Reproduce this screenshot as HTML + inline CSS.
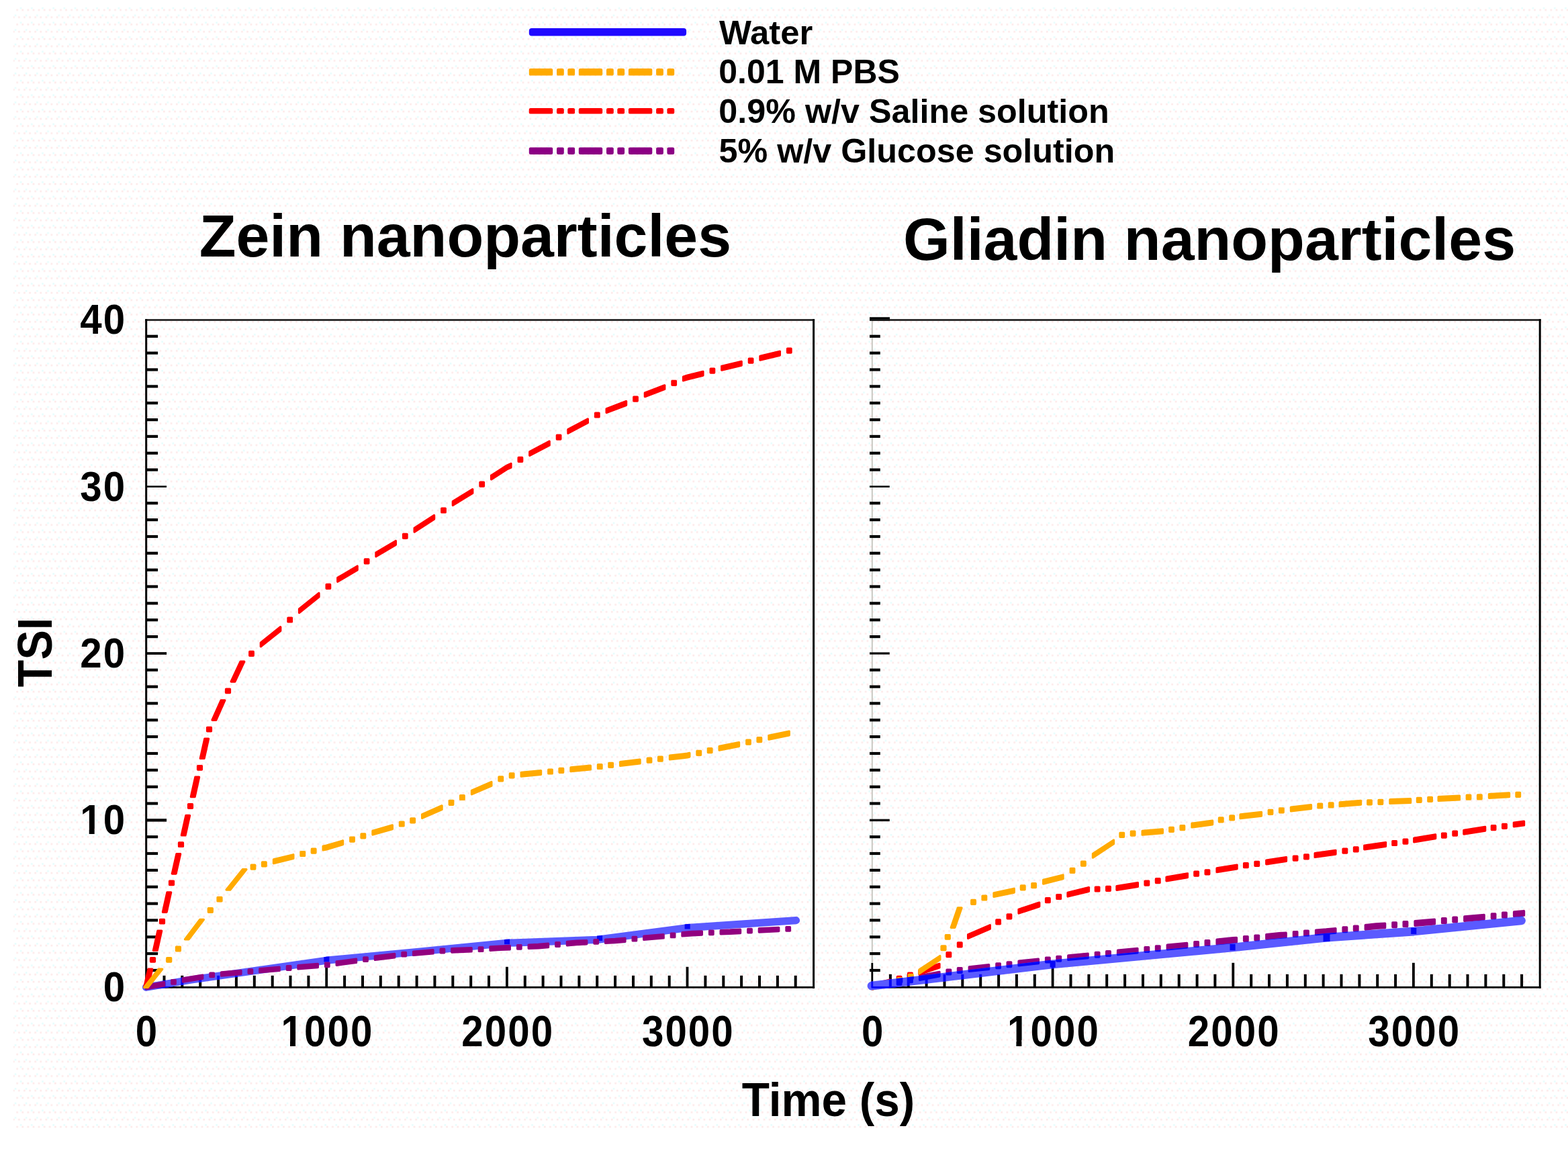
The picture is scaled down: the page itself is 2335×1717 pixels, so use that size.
<!DOCTYPE html>
<html lang="en"><head><meta charset="utf-8"><title>TSI stability kinetics</title>
<style>
html,body{margin:0;padding:0;background:#ffffff;}
body{width:2335px;height:1717px;overflow:hidden;}
svg{display:block;}
text{font-family:"Liberation Sans","DejaVu Sans",sans-serif;font-weight:700;fill:#000;}
.leg{font-size:50px;}
.ttl{font-size:89.7px;}
.tk{font-size:62px;}
.ax{font-size:67.5px;}
</style></head><body>
<svg width="2335" height="1717" viewBox="0 0 2335 1717">
<defs><pattern id="dz" width="16.2" height="21.6" patternUnits="userSpaceOnUse"><rect x="2.7" y="2.7" width="2.7" height="2.7" fill="#fdeaea"/><rect x="10.8" y="2.7" width="2.7" height="2.7" fill="#fdeaea"/><rect x="5.4" y="0" width="2.7" height="2.7" fill="#e8fdfd"/><rect x="0" y="13.5" width="2.7" height="2.7" fill="#fdeaea"/><rect x="8.1" y="13.5" width="2.7" height="2.7" fill="#fdeaea"/><rect x="13.5" y="10.8" width="2.7" height="2.7" fill="#e8fdfd"/></pattern></defs>
<rect x="0" y="0" width="2335" height="1717" fill="#ffffff"/>
<rect x="20" y="8" width="2315" height="1674" fill="url(#dz)"/>
<g id="legend">
<rect x="787.8" y="42" width="234.3" height="11.6" rx="4" fill="#2008ff"/>
<rect x="787.8" y="101.9" width="35.4" height="10.7" rx="2.2" fill="#ffaa00"/>
<rect x="829" y="101.9" width="10.8" height="10.7" rx="2.2" fill="#ffaa00"/>
<rect x="845.3" y="101.9" width="10.8" height="10.7" rx="2.2" fill="#ffaa00"/>
<rect x="861.8" y="101.9" width="35.4" height="10.7" rx="2.2" fill="#ffaa00"/>
<rect x="903" y="101.9" width="10.8" height="10.7" rx="2.2" fill="#ffaa00"/>
<rect x="919.3" y="101.9" width="10.8" height="10.7" rx="2.2" fill="#ffaa00"/>
<rect x="935.9" y="101.9" width="35.4" height="10.7" rx="2.2" fill="#ffaa00"/>
<rect x="977.1" y="101.9" width="10.8" height="10.7" rx="2.2" fill="#ffaa00"/>
<rect x="993.4" y="101.9" width="10.8" height="10.7" rx="2.2" fill="#ffaa00"/>
<rect x="787.8" y="161" width="35.4" height="8.6" rx="2.2" fill="#ff0000"/>
<rect x="829" y="161" width="10.8" height="8.6" rx="2.2" fill="#ff0000"/>
<rect x="845.3" y="161" width="10.8" height="8.6" rx="2.2" fill="#ff0000"/>
<rect x="861.8" y="161" width="35.4" height="8.6" rx="2.2" fill="#ff0000"/>
<rect x="903" y="161" width="10.8" height="8.6" rx="2.2" fill="#ff0000"/>
<rect x="919.3" y="161" width="10.8" height="8.6" rx="2.2" fill="#ff0000"/>
<rect x="935.9" y="161" width="35.4" height="8.6" rx="2.2" fill="#ff0000"/>
<rect x="977.1" y="161" width="10.8" height="8.6" rx="2.2" fill="#ff0000"/>
<rect x="993.4" y="161" width="10.8" height="8.6" rx="2.2" fill="#ff0000"/>
<rect x="787.8" y="219.4" width="35.4" height="10.6" rx="2.2" fill="#8c0084"/>
<rect x="829" y="219.4" width="10.8" height="10.6" rx="2.2" fill="#8c0084"/>
<rect x="845.3" y="219.4" width="10.8" height="10.6" rx="2.2" fill="#8c0084"/>
<rect x="861.8" y="219.4" width="35.4" height="10.6" rx="2.2" fill="#8c0084"/>
<rect x="903" y="219.4" width="10.8" height="10.6" rx="2.2" fill="#8c0084"/>
<rect x="919.3" y="219.4" width="10.8" height="10.6" rx="2.2" fill="#8c0084"/>
<rect x="935.9" y="219.4" width="35.4" height="10.6" rx="2.2" fill="#8c0084"/>
<rect x="977.1" y="219.4" width="10.8" height="10.6" rx="2.2" fill="#8c0084"/>
<rect x="993.4" y="219.4" width="10.8" height="10.6" rx="2.2" fill="#8c0084"/>
<text class="leg" x="1071" y="66" style="font-size:50.8px">Water</text>
<text class="leg" x="1070.3" y="123.8">0.01 M PBS</text>
<text class="leg" x="1070.3" y="182.8" style="font-size:50.3px">0.9% w/v Saline solution</text>
<text class="leg" x="1070.5" y="242.2" style="font-size:50.3px">5% w/v Glucose solution</text>
</g>
<text class="ttl" x="692.9" y="381.5" text-anchor="middle">Zein nanoparticles</text>
<text class="ttl" x="1801" y="387" text-anchor="middle">Gliadin nanoparticles</text>
<g id="zein">
<g>
<rect x="218.6" y="1442.9" width="16.5" height="4.2" fill="#000"/>
<rect x="218.6" y="1418" width="16.5" height="4.2" fill="#000"/>
<rect x="218.6" y="1393.2" width="16.5" height="4.2" fill="#000"/>
<rect x="218.6" y="1368.3" width="16.5" height="4.2" fill="#000"/>
<rect x="218.6" y="1343.5" width="16.5" height="4.2" fill="#000"/>
<rect x="218.6" y="1318.6" width="16.5" height="4.2" fill="#000"/>
<rect x="218.6" y="1293.8" width="16.5" height="4.2" fill="#000"/>
<rect x="218.6" y="1268.9" width="16.5" height="4.2" fill="#000"/>
<rect x="218.6" y="1244.1" width="16.5" height="4.2" fill="#000"/>
<rect x="218.6" y="1219.2" width="29.5" height="4.4" fill="#0a0a0a"/>
<rect x="218.6" y="1194.4" width="16.5" height="4.2" fill="#000"/>
<rect x="218.6" y="1169.6" width="16.5" height="4.2" fill="#000"/>
<rect x="218.6" y="1144.7" width="16.5" height="4.2" fill="#000"/>
<rect x="218.6" y="1119.9" width="16.5" height="4.2" fill="#000"/>
<rect x="218.6" y="1095" width="16.5" height="4.2" fill="#000"/>
<rect x="218.6" y="1070.2" width="16.5" height="4.2" fill="#000"/>
<rect x="218.6" y="1045.3" width="16.5" height="4.2" fill="#000"/>
<rect x="218.6" y="1020.5" width="16.5" height="4.2" fill="#000"/>
<rect x="218.6" y="995.6" width="16.5" height="4.2" fill="#000"/>
<rect x="218.6" y="971.1" width="29.5" height="3.8" fill="#0a0a0a"/>
<rect x="218.6" y="946" width="16.5" height="4.2" fill="#000"/>
<rect x="218.6" y="921.1" width="16.5" height="4.2" fill="#000"/>
<rect x="218.6" y="896.3" width="16.5" height="4.2" fill="#000"/>
<rect x="218.6" y="871.4" width="16.5" height="4.2" fill="#000"/>
<rect x="218.6" y="846.6" width="16.5" height="4.2" fill="#000"/>
<rect x="218.6" y="821.7" width="16.5" height="4.2" fill="#000"/>
<rect x="218.6" y="796.9" width="16.5" height="4.2" fill="#000"/>
<rect x="218.6" y="772" width="16.5" height="4.2" fill="#000"/>
<rect x="218.6" y="747.2" width="16.5" height="4.2" fill="#000"/>
<rect x="218.6" y="723.3" width="29.5" height="2.6" fill="#0a0a0a"/>
<rect x="218.6" y="697.5" width="16.5" height="4.2" fill="#000"/>
<rect x="218.6" y="672.7" width="16.5" height="4.2" fill="#000"/>
<rect x="218.6" y="647.8" width="16.5" height="4.2" fill="#000"/>
<rect x="218.6" y="623" width="16.5" height="4.2" fill="#000"/>
<rect x="218.6" y="598.1" width="16.5" height="4.2" fill="#000"/>
<rect x="218.6" y="573.3" width="16.5" height="4.2" fill="#000"/>
<rect x="218.6" y="548.4" width="16.5" height="4.2" fill="#000"/>
<rect x="218.6" y="523.6" width="16.5" height="4.2" fill="#000"/>
<rect x="218.6" y="498.7" width="16.5" height="4.2" fill="#000"/>
<rect x="242.5" y="1452.8" width="4" height="17.5" fill="#000"/>
<rect x="269.3" y="1452.8" width="4" height="17.5" fill="#000"/>
<rect x="296.2" y="1452.8" width="4" height="17.5" fill="#000"/>
<rect x="323.1" y="1452.8" width="4" height="17.5" fill="#000"/>
<rect x="349.9" y="1452.8" width="4" height="17.5" fill="#000"/>
<rect x="376.8" y="1452.8" width="4" height="17.5" fill="#000"/>
<rect x="403.7" y="1452.8" width="4" height="17.5" fill="#000"/>
<rect x="430.5" y="1452.8" width="4" height="17.5" fill="#000"/>
<rect x="457.4" y="1452.8" width="4" height="17.5" fill="#000"/>
<rect x="484.3" y="1439.8" width="3.8" height="30.5" fill="#000"/>
<rect x="511.1" y="1452.8" width="4" height="17.5" fill="#000"/>
<rect x="538" y="1452.8" width="4" height="17.5" fill="#000"/>
<rect x="564.8" y="1452.8" width="4" height="17.5" fill="#000"/>
<rect x="591.7" y="1452.8" width="4" height="17.5" fill="#000"/>
<rect x="618.6" y="1452.8" width="4" height="17.5" fill="#000"/>
<rect x="645.4" y="1452.8" width="4" height="17.5" fill="#000"/>
<rect x="672.3" y="1452.8" width="4" height="17.5" fill="#000"/>
<rect x="699.2" y="1452.8" width="4" height="17.5" fill="#000"/>
<rect x="726" y="1452.8" width="4" height="17.5" fill="#000"/>
<rect x="753" y="1439.8" width="3.8" height="30.5" fill="#000"/>
<rect x="779.8" y="1452.8" width="4" height="17.5" fill="#000"/>
<rect x="806.6" y="1452.8" width="4" height="17.5" fill="#000"/>
<rect x="833.5" y="1452.8" width="4" height="17.5" fill="#000"/>
<rect x="860.4" y="1452.8" width="4" height="17.5" fill="#000"/>
<rect x="887.2" y="1452.8" width="4" height="17.5" fill="#000"/>
<rect x="914.1" y="1452.8" width="4" height="17.5" fill="#000"/>
<rect x="941" y="1452.8" width="4" height="17.5" fill="#000"/>
<rect x="967.8" y="1452.8" width="4" height="17.5" fill="#000"/>
<rect x="994.7" y="1452.8" width="4" height="17.5" fill="#000"/>
<rect x="1021.6" y="1439.8" width="3.8" height="30.5" fill="#000"/>
<rect x="1048.4" y="1452.8" width="4" height="17.5" fill="#000"/>
<rect x="1075.3" y="1452.8" width="4" height="17.5" fill="#000"/>
<rect x="1102.1" y="1452.8" width="4" height="17.5" fill="#000"/>
<rect x="1129" y="1452.8" width="4" height="17.5" fill="#000"/>
<rect x="1155.9" y="1452.8" width="4" height="17.5" fill="#000"/>
<rect x="1182.7" y="1452.8" width="4" height="17.5" fill="#000"/>
<rect x="216.2" y="475.2" width="996.9" height="2.6" fill="#1a1a1a"/>
<rect x="1210.1" y="475.2" width="3" height="996.6" fill="#000"/>
<rect x="216.2" y="1468.9" width="996.9" height="2.8" fill="#000"/>
<rect x="216.2" y="475.2" width="3" height="996.6" fill="#000"/>
<text class="tk" transform="translate(201.7 1557.6) scale(0.94 1.055)" style="letter-spacing:2.2px">0</text>
<clipPath id="c1_1" clipPathUnits="userSpaceOnUse"><rect x="218.6" y="1437.6" width="700" height="111.5"/><rect x="218.6" y="1548.5" width="200.5" height="39.1"/><rect x="432" y="1548.5" width="8" height="39.1"/><rect x="452" y="1548.5" width="500" height="39.1"/></clipPath>
<g clip-path="url(#c1_1)"><text class="tk" transform="translate(418.6 1557.6) scale(0.94 1.055)" style="letter-spacing:2.2px">1000</text></g>
<text class="tk" transform="translate(687.3 1557.6) scale(0.94 1.055)" style="letter-spacing:2.2px">2000</text>
<text class="tk" transform="translate(955.9 1557.6) scale(0.94 1.055)" style="letter-spacing:2.2px">3000</text>
<text class="tk" transform="translate(153.8 1490.8) scale(0.94 1.005)" style="letter-spacing:2.2px">0</text>
<clipPath id="c1_2" clipPathUnits="userSpaceOnUse"><rect x="-80.7" y="1122.3" width="700" height="112"/><rect x="-80.7" y="1233.7" width="200.5" height="38.6"/><rect x="132.7" y="1233.7" width="8" height="38.6"/><rect x="152.7" y="1233.7" width="500" height="38.6"/></clipPath>
<g clip-path="url(#c1_2)"><text class="tk" transform="translate(119.3 1242.3) scale(0.94 1.005)" style="letter-spacing:2.2px">10</text></g>
<text class="tk" transform="translate(119.3 993.9) scale(0.94 1.005)" style="letter-spacing:2.2px">20</text>
<text class="tk" transform="translate(119.3 745.5) scale(0.94 1.005)" style="letter-spacing:2.2px">30</text>
<text class="tk" transform="translate(119.3 497) scale(0.94 1.005)" style="letter-spacing:2.2px">40</text>
</g>
<mask id="mz" maskUnits="userSpaceOnUse" x="0" y="0" width="2335" height="1717"><path d="M217.5 1470.3 L283.5 1459.2 L486.3 1430.2 L620.6 1417.5 L755 1404.3 L889.2 1399.4 L1023.6 1381.6 L1185.5 1370.6" fill="none" stroke="#fff" stroke-width="11.2" stroke-linecap="round" stroke-linejoin="round"/></mask>
<path d="M217.5 1470.3 L283.5 1459.2 L486.3 1430.2 L620.6 1417.5 L755 1404.3 L889.2 1399.4 L1023.6 1381.6 L1185.5 1370.6" fill="none" stroke="#5a5aff" stroke-width="11.2" stroke-linecap="round" stroke-linejoin="round"/>
<g mask="url(#mz)">
<rect x="218.6" y="1442.9" width="16.5" height="4.2" fill="#0808f6"/>
<rect x="218.6" y="1418" width="16.5" height="4.2" fill="#0808f6"/>
<rect x="218.6" y="1393.2" width="16.5" height="4.2" fill="#0808f6"/>
<rect x="218.6" y="1368.3" width="16.5" height="4.2" fill="#0808f6"/>
<rect x="218.6" y="1343.5" width="16.5" height="4.2" fill="#0808f6"/>
<rect x="242.5" y="1452.8" width="4" height="17.5" fill="#0808f6"/>
<rect x="269.3" y="1452.8" width="4" height="17.5" fill="#0808f6"/>
<rect x="296.2" y="1452.8" width="4" height="17.5" fill="#0808f6"/>
<rect x="323.1" y="1452.8" width="4" height="17.5" fill="#0808f6"/>
<rect x="349.9" y="1452.8" width="4" height="17.5" fill="#0808f6"/>
<rect x="376.8" y="1452.8" width="4" height="17.5" fill="#0808f6"/>
<rect x="403.7" y="1452.8" width="4" height="17.5" fill="#0808f6"/>
<rect x="430.5" y="1452.8" width="4" height="17.5" fill="#0808f6"/>
<rect x="457.4" y="1452.8" width="4" height="17.5" fill="#0808f6"/>
<rect x="484.3" y="1439.8" width="3.8" height="30.5" fill="#0808f6"/>
<rect x="511.1" y="1452.8" width="4" height="17.5" fill="#0808f6"/>
<rect x="538" y="1452.8" width="4" height="17.5" fill="#0808f6"/>
<rect x="564.8" y="1452.8" width="4" height="17.5" fill="#0808f6"/>
<rect x="591.7" y="1452.8" width="4" height="17.5" fill="#0808f6"/>
<rect x="618.6" y="1452.8" width="4" height="17.5" fill="#0808f6"/>
<rect x="645.4" y="1452.8" width="4" height="17.5" fill="#0808f6"/>
<rect x="672.3" y="1452.8" width="4" height="17.5" fill="#0808f6"/>
<rect x="699.2" y="1452.8" width="4" height="17.5" fill="#0808f6"/>
<rect x="726" y="1452.8" width="4" height="17.5" fill="#0808f6"/>
<rect x="753" y="1439.8" width="3.8" height="30.5" fill="#0808f6"/>
<rect x="779.8" y="1452.8" width="4" height="17.5" fill="#0808f6"/>
<rect x="806.6" y="1452.8" width="4" height="17.5" fill="#0808f6"/>
<rect x="833.5" y="1452.8" width="4" height="17.5" fill="#0808f6"/>
<rect x="860.4" y="1452.8" width="4" height="17.5" fill="#0808f6"/>
<rect x="887.2" y="1452.8" width="4" height="17.5" fill="#0808f6"/>
<rect x="914.1" y="1452.8" width="4" height="17.5" fill="#0808f6"/>
<rect x="941" y="1452.8" width="4" height="17.5" fill="#0808f6"/>
<rect x="967.8" y="1452.8" width="4" height="17.5" fill="#0808f6"/>
<rect x="994.7" y="1452.8" width="4" height="17.5" fill="#0808f6"/>
<rect x="1021.6" y="1439.8" width="3.8" height="30.5" fill="#0808f6"/>
<rect x="1048.4" y="1452.8" width="4" height="17.5" fill="#0808f6"/>
<rect x="1075.3" y="1452.8" width="4" height="17.5" fill="#0808f6"/>
<rect x="1102.1" y="1452.8" width="4" height="17.5" fill="#0808f6"/>
<rect x="1129" y="1452.8" width="4" height="17.5" fill="#0808f6"/>
<rect x="1155.9" y="1452.8" width="4" height="17.5" fill="#0808f6"/>
<rect x="1182.7" y="1452.8" width="4" height="17.5" fill="#0808f6"/>
<rect x="1210.1" y="475.2" width="3" height="996.6" fill="#0808f6"/>
<rect x="216.2" y="1468.9" width="996.9" height="2.8" fill="#0808f6"/>
<rect x="216.2" y="475.2" width="3" height="996.6" fill="#0808f6"/>
<rect x="482.3" y="1424.4" width="8.1" height="8.1" fill="#0808f6"/>
<rect x="751" y="1398.1" width="8.1" height="8.1" fill="#0808f6"/>
<rect x="889" y="1392.9" width="8.1" height="8.1" fill="#0808f6"/>
<rect x="1019.6" y="1375.4" width="8.1" height="8.1" fill="#0808f6"/>
</g>
<path d="M217.5 1467.7 L244.5 1462.7 L244.5 1467.9 L217.5 1472.9ZM255.8 1459.6 L261.2 1459.6 L261.2 1465 L255.8 1465ZM272.4 1456.9 L301.7 1452.1 L301.7 1457.3 L272.4 1462.1ZM313 1449.2 L318.4 1449.2 L318.4 1454.6 L313 1454.6ZM329.6 1447.9 L358.9 1445.4 L358.9 1450.6 L329.6 1453.1ZM370.2 1443.9 L375.6 1443.9 L375.6 1449.3 L370.2 1449.3ZM386.8 1442.6 L416.1 1440.2 L416.1 1445.4 L386.8 1447.8ZM427.4 1438.8 L432.8 1438.8 L432.8 1444.2 L427.4 1444.2ZM444 1437.6 L473.3 1435.4 L473.3 1440.6 L444 1442.8ZM484.6 1434.1 L490 1434.1 L490 1439.5 L484.6 1439.5ZM501.2 1432 L530.5 1428.2 L530.5 1433.4 L501.2 1437.2ZM541.8 1425.9 L547.2 1425.9 L547.2 1431.3 L541.8 1431.3ZM558.4 1424 L587.7 1420.5 L587.7 1425.7 L558.4 1429.2ZM599 1418.4 L604.4 1418.4 L604.4 1423.8 L599 1423.8ZM615.6 1417.1 L644.9 1414.7 L644.9 1419.9 L615.6 1422.3ZM656.2 1413.3 L661.6 1413.3 L661.6 1418.7 L656.2 1418.7ZM672.8 1412.8 L702.1 1411.7 L702.1 1416.9 L672.8 1418ZM713.4 1411 L718.8 1411 L718.8 1416.4 L713.4 1416.4ZM730 1410 L744.2 1409.1 L744.2 1414.3 L730 1415.2ZM744.2 1409.1 L759.3 1408.5 L759.3 1413.7 L744.2 1414.3ZM770.6 1407.7 L776 1407.7 L776 1413.1 L770.6 1413.1ZM787.2 1407.1 L801.8 1406.5 L801.8 1411.7 L787.2 1412.3ZM801.8 1406.5 L816.5 1405.3 L816.5 1410.5 L801.8 1411.7ZM827.8 1403.8 L833.2 1403.8 L833.2 1409.2 L827.8 1409.2ZM844.4 1402.5 L858.8 1401.3 L858.8 1406.5 L844.4 1407.7ZM858.8 1401.3 L873.7 1400.6 L873.7 1405.8 L858.8 1406.5ZM885 1399.7 L890.4 1399.7 L890.4 1405.1 L885 1405.1ZM901.6 1399.1 L916 1398.4 L916 1403.6 L901.6 1404.3ZM916 1398.4 L930.9 1397.1 L930.9 1402.3 L916 1403.6ZM942.2 1395.5 L947.6 1395.5 L947.6 1400.9 L942.2 1400.9ZM958.8 1394.2 L988.1 1391.7 L988.1 1396.9 L958.8 1399.4ZM999.4 1390.1 L1004.8 1390.1 L1004.8 1395.5 L999.4 1395.5ZM1016 1388.7 L1030.6 1387.5 L1030.6 1392.7 L1016 1393.9ZM1030.6 1387.5 L1045.3 1386.9 L1045.3 1392.1 L1030.6 1392.7ZM1056.6 1386.1 L1062 1386.1 L1062 1391.5 L1056.6 1391.5ZM1073.2 1385.6 L1087.5 1385 L1087.5 1390.2 L1073.2 1390.8ZM1087.5 1385 L1102.5 1384.3 L1102.5 1389.5 L1087.5 1390.2ZM1113.8 1383.4 L1119.2 1383.4 L1119.2 1388.8 L1113.8 1388.8ZM1130.4 1382.8 L1144.8 1382.1 L1144.8 1387.3 L1130.4 1388ZM1144.8 1382.1 L1159.7 1381.4 L1159.7 1386.6 L1144.8 1387.3ZM1171 1380.6 L1176.4 1380.6 L1176.4 1386 L1171 1386Z" fill="#92007f" stroke="#92007f" stroke-width="3.4" stroke-linejoin="round"/>
<path d="M214.7 1470.3 L221 1443.3 L226.6 1443.3 L220.3 1470.3ZM224.6 1426.6 L230.4 1426.6 L230.4 1432 L224.6 1432ZM228.5 1415.4 L235 1386.1 L240.6 1386.1 L234.1 1415.4ZM238.6 1369.4 L244.4 1369.4 L244.4 1374.8 L238.6 1374.8ZM242.5 1358.2 L249 1328.9 L254.6 1328.9 L248.1 1358.2ZM252.6 1312.2 L258.4 1312.2 L258.4 1317.6 L252.6 1317.6ZM256.4 1301 L263 1271.7 L268.6 1271.7 L262 1301ZM266.6 1255 L272.4 1255 L272.4 1260.4 L266.6 1260.4ZM270.4 1243.8 L276.9 1214.5 L282.5 1214.5 L276 1243.8ZM280.6 1197.8 L286.4 1197.8 L286.4 1203.2 L280.6 1203.2ZM284.4 1186.6 L290.9 1157.3 L296.5 1157.3 L290 1186.6ZM294.6 1140.6 L300.4 1140.6 L300.4 1146 L294.6 1146ZM298.4 1129.4 L304.9 1100.1 L310.5 1100.1 L304 1129.4ZM308.6 1083.4 L314.4 1083.4 L314.4 1088.8 L308.6 1088.8ZM316.1 1072.2 L329.2 1042.9 L334.8 1042.9 L321.7 1072.2ZM336.6 1026.2 L342.4 1026.2 L342.4 1031.6 L336.6 1031.6ZM344.2 1015 L358.1 985.3 L363.7 985.3 L349.8 1015ZM371.8 970.4 L377.2 970.4 L377.2 976.2 L371.8 976.2ZM388.4 957.1 L417.7 933.7 L417.7 939.3 L388.4 962.7ZM429 920.1 L434.4 920.1 L434.4 925.9 L429 925.9ZM445.6 906.8 L474.9 883.4 L474.9 889 L445.6 912.4ZM486.2 870.4 L491.6 870.4 L491.6 876.2 L486.2 876.2ZM502.8 860.5 L532.1 843.1 L532.1 848.7 L502.8 866.1ZM543.4 832.9 L548.8 832.9 L548.8 838.7 L543.4 838.7ZM560 823 L589.3 805.6 L589.3 811.2 L560 828.6ZM600.6 795.4 L606 795.4 L606 801.2 L600.6 801.2ZM617.2 786.4 L620.6 784.2 L620.6 789.8 L617.2 792ZM620.6 784.2 L646.5 767.5 L646.5 773.1 L620.6 789.8ZM657.8 757.1 L663.2 757.1 L663.2 762.9 L657.8 762.9ZM674.4 746.8 L703.7 728.8 L703.7 734.4 L674.4 752.4ZM715 718.3 L720.4 718.3 L720.4 724.1 L715 724.1ZM731.6 708.1 L754.9 693.2 L754.9 698.8 L731.6 713.7ZM754.9 693.2 L760.9 690.5 L760.9 696.1 L754.9 698.8ZM772.2 681.5 L777.6 681.5 L777.6 687.3 L772.2 687.3ZM788.8 672.7 L818.1 657.3 L818.1 662.9 L788.8 678.3ZM829.4 648.3 L834.8 648.3 L834.8 654.1 L829.4 654.1ZM846 639.5 L875.3 624 L875.3 629.6 L846 645.1ZM886.6 615.1 L892 615.1 L892 620.9 L886.6 620.9ZM903.2 608.8 L932.5 597.7 L932.5 603.3 L903.2 614.4ZM943.8 591.2 L949.2 591.2 L949.2 597 L943.8 597ZM960.4 585 L989.7 573.9 L989.7 579.5 L960.4 590.6ZM1001 567.4 L1006.4 567.4 L1006.4 573.2 L1001 573.2ZM1017.6 561.1 L1023.6 559.2 L1023.6 564.8 L1017.6 566.7ZM1023.6 559.2 L1046.9 553.4 L1046.9 559 L1023.6 564.8ZM1058.2 549.3 L1063.6 549.3 L1063.6 555.1 L1058.2 555.1ZM1074.8 545.4 L1104.1 538.4 L1104.1 544 L1074.8 551ZM1115.4 534.3 L1120.8 534.3 L1120.8 540.1 L1115.4 540.1ZM1132 530.4 L1161.3 523.4 L1161.3 529 L1132 536ZM1172.6 519.3 L1178 519.3 L1178 525.1 L1172.6 525.1Z" fill="#ff0000" stroke="#ff0000" stroke-width="3.4" stroke-linejoin="round"/>
<path d="M214.7 1470.3 L236.1 1443.3 L241.7 1443.3 L220.3 1470.3ZM248.8 1426.6 L254.6 1426.6 L254.6 1432 L248.8 1432ZM262.5 1410.2 L268.3 1410.2 L268.3 1415.7 L262.5 1415.7ZM275.5 1398.8 L297.7 1369.5 L303.3 1369.5 L281.1 1398.8ZM310.4 1352.8 L316.2 1352.8 L316.2 1358.3 L310.4 1358.3ZM324.1 1336.5 L329.9 1336.5 L329.9 1341.9 L324.1 1341.9ZM337.1 1325.1 L361.3 1294.7 L366.9 1294.7 L342.7 1325.1ZM374.3 1288.3 L379.7 1288.3 L379.7 1294.1 L374.3 1294.1ZM390.6 1284 L396.1 1284 L396.1 1289.8 L390.6 1289.8ZM407.5 1279.9 L436.8 1272.8 L436.8 1278.4 L407.5 1285.5ZM448 1268.6 L453.5 1268.6 L453.5 1274.4 L448 1274.4ZM464.4 1264.2 L469.9 1264.2 L469.9 1270 L464.4 1270ZM481.2 1260.2 L486.3 1259.2 L486.3 1264.8 L481.2 1265.8ZM486.3 1259.2 L510.5 1252 L510.5 1257.6 L486.3 1264.8ZM521.8 1247.2 L527.2 1247.2 L527.2 1253 L521.8 1253ZM538.1 1242 L543.6 1242 L543.6 1247.8 L538.1 1247.8ZM555 1237.3 L584.3 1229 L584.3 1234.6 L555 1242.9ZM595.5 1224.1 L601 1224.1 L601 1229.9 L595.5 1229.9ZM611.9 1219 L617.4 1219 L617.4 1224.8 L611.9 1224.8ZM628.7 1212.7 L658 1199.9 L658 1205.5 L628.7 1218.3ZM669.3 1192.4 L674.7 1192.4 L674.7 1198.2 L669.3 1198.2ZM685.6 1184.6 L691.1 1184.6 L691.1 1190.4 L685.6 1190.4ZM702.5 1177.2 L731.8 1164.5 L731.8 1170.1 L702.5 1182.8ZM743 1157 L748.5 1157 L748.5 1162.8 L743 1162.8ZM759.4 1151.9 L764.9 1151.9 L764.9 1157.7 L759.4 1157.7ZM776.2 1150.4 L805.5 1147.7 L805.5 1153.3 L776.2 1156ZM816.8 1146.1 L822.2 1146.1 L822.2 1151.9 L816.8 1151.9ZM833.1 1144.5 L838.6 1144.5 L838.6 1150.3 L833.1 1150.3ZM850 1143 L879.3 1140.3 L879.3 1145.9 L850 1148.6ZM890.5 1138.6 L896 1138.6 L896 1144.4 L890.5 1144.4ZM906.9 1136.5 L912.4 1136.5 L912.4 1142.3 L906.9 1142.3ZM923.7 1134.7 L953 1131.3 L953 1136.9 L923.7 1140.3ZM964.3 1129.3 L969.7 1129.3 L969.7 1135.1 L964.3 1135.1ZM980.6 1127.2 L986.1 1127.2 L986.1 1133 L980.6 1133ZM997.5 1125.3 L1023.6 1122.2 L1023.6 1127.8 L997.5 1130.9ZM1023.6 1122.2 L1026.8 1121.5 L1026.8 1127.1 L1023.6 1127.8ZM1038 1118.4 L1043.5 1118.4 L1043.5 1124.2 L1038 1124.2ZM1054.4 1114.8 L1059.9 1114.8 L1059.9 1120.6 L1054.4 1120.6ZM1071.2 1111.5 L1100.5 1105.7 L1100.5 1111.3 L1071.2 1117.1ZM1111.8 1102.3 L1117.2 1102.3 L1117.2 1108.1 L1111.8 1108.1ZM1128.1 1098.8 L1133.6 1098.8 L1133.6 1104.6 L1128.1 1104.6ZM1145 1095.5 L1175.2 1089.2 L1175.2 1094.8 L1145 1101.1Z" fill="#ffaa00" stroke="#ffaa00" stroke-width="3.4" stroke-linejoin="round"/>
</g>
<g id="gliadin">
<g>
<rect x="1297.8" y="476.5" width="2" height="993.8" fill="#c9c9c3"/>
<rect x="1295" y="1442.9" width="15.8" height="4.2" fill="#000"/>
<rect x="1295" y="1418" width="15.8" height="4.2" fill="#000"/>
<rect x="1295" y="1393.2" width="15.8" height="4.2" fill="#000"/>
<rect x="1295" y="1368.3" width="15.8" height="4.2" fill="#000"/>
<rect x="1295" y="1343.5" width="15.8" height="4.2" fill="#000"/>
<rect x="1295" y="1318.6" width="15.8" height="4.2" fill="#000"/>
<rect x="1295" y="1293.8" width="15.8" height="4.2" fill="#000"/>
<rect x="1295" y="1268.9" width="15.8" height="4.2" fill="#000"/>
<rect x="1295" y="1244.1" width="15.8" height="4.2" fill="#000"/>
<rect x="1295" y="1219.7" width="29.8" height="3.4" fill="#0a0a0a"/>
<rect x="1295" y="1194.4" width="15.8" height="4.2" fill="#000"/>
<rect x="1295" y="1169.6" width="15.8" height="4.2" fill="#000"/>
<rect x="1295" y="1144.7" width="15.8" height="4.2" fill="#000"/>
<rect x="1295" y="1119.9" width="15.8" height="4.2" fill="#000"/>
<rect x="1295" y="1095" width="15.8" height="4.2" fill="#000"/>
<rect x="1295" y="1070.2" width="15.8" height="4.2" fill="#000"/>
<rect x="1295" y="1045.3" width="15.8" height="4.2" fill="#000"/>
<rect x="1295" y="1020.5" width="15.8" height="4.2" fill="#000"/>
<rect x="1295" y="995.6" width="15.8" height="4.2" fill="#000"/>
<rect x="1295" y="971.4" width="29.8" height="3.2" fill="#0a0a0a"/>
<rect x="1295" y="946" width="15.8" height="4.2" fill="#000"/>
<rect x="1295" y="921.1" width="15.8" height="4.2" fill="#000"/>
<rect x="1295" y="896.3" width="15.8" height="4.2" fill="#000"/>
<rect x="1295" y="871.4" width="15.8" height="4.2" fill="#000"/>
<rect x="1295" y="846.6" width="15.8" height="4.2" fill="#000"/>
<rect x="1295" y="821.7" width="15.8" height="4.2" fill="#000"/>
<rect x="1295" y="796.9" width="15.8" height="4.2" fill="#000"/>
<rect x="1295" y="772" width="15.8" height="4.2" fill="#000"/>
<rect x="1295" y="747.2" width="15.8" height="4.2" fill="#000"/>
<rect x="1295" y="723.3" width="29.8" height="2.6" fill="#0a0a0a"/>
<rect x="1295" y="697.5" width="15.8" height="4.2" fill="#000"/>
<rect x="1295" y="672.7" width="15.8" height="4.2" fill="#000"/>
<rect x="1295" y="647.8" width="15.8" height="4.2" fill="#000"/>
<rect x="1295" y="623" width="15.8" height="4.2" fill="#000"/>
<rect x="1295" y="598.1" width="15.8" height="4.2" fill="#000"/>
<rect x="1295" y="573.3" width="15.8" height="4.2" fill="#000"/>
<rect x="1295" y="548.4" width="15.8" height="4.2" fill="#000"/>
<rect x="1295" y="523.6" width="15.8" height="4.2" fill="#000"/>
<rect x="1295" y="498.7" width="15.8" height="4.2" fill="#000"/>
<rect x="1295" y="472.3" width="30" height="5.5" fill="#000"/>
<rect x="1323.9" y="1450.8" width="4" height="19.5" fill="#000"/>
<rect x="1350.7" y="1450.8" width="4" height="19.5" fill="#000"/>
<rect x="1377.6" y="1450.8" width="4" height="19.5" fill="#000"/>
<rect x="1404.5" y="1450.8" width="4" height="19.5" fill="#000"/>
<rect x="1431.3" y="1450.8" width="4" height="19.5" fill="#000"/>
<rect x="1458.2" y="1450.8" width="4" height="19.5" fill="#000"/>
<rect x="1485.1" y="1450.8" width="4" height="19.5" fill="#000"/>
<rect x="1511.9" y="1450.8" width="4" height="19.5" fill="#000"/>
<rect x="1538.8" y="1450.8" width="4" height="19.5" fill="#000"/>
<rect x="1565.7" y="1433.8" width="3.8" height="36.5" fill="#000"/>
<rect x="1592.5" y="1450.8" width="4" height="19.5" fill="#000"/>
<rect x="1619.4" y="1450.8" width="4" height="19.5" fill="#000"/>
<rect x="1646.2" y="1450.8" width="4" height="19.5" fill="#000"/>
<rect x="1673.1" y="1450.8" width="4" height="19.5" fill="#000"/>
<rect x="1700" y="1450.8" width="4" height="19.5" fill="#000"/>
<rect x="1726.8" y="1450.8" width="4" height="19.5" fill="#000"/>
<rect x="1753.7" y="1450.8" width="4" height="19.5" fill="#000"/>
<rect x="1780.6" y="1450.8" width="4" height="19.5" fill="#000"/>
<rect x="1807.4" y="1450.8" width="4" height="19.5" fill="#000"/>
<rect x="1834.4" y="1433.8" width="3.8" height="36.5" fill="#000"/>
<rect x="1861.2" y="1450.8" width="4" height="19.5" fill="#000"/>
<rect x="1888" y="1450.8" width="4" height="19.5" fill="#000"/>
<rect x="1914.9" y="1450.8" width="4" height="19.5" fill="#000"/>
<rect x="1941.8" y="1450.8" width="4" height="19.5" fill="#000"/>
<rect x="1968.6" y="1450.8" width="4" height="19.5" fill="#000"/>
<rect x="1995.5" y="1450.8" width="4" height="19.5" fill="#000"/>
<rect x="2022.4" y="1450.8" width="4" height="19.5" fill="#000"/>
<rect x="2049.2" y="1450.8" width="4" height="19.5" fill="#000"/>
<rect x="2076.1" y="1450.8" width="4" height="19.5" fill="#000"/>
<rect x="2103" y="1433.8" width="3.8" height="36.5" fill="#000"/>
<rect x="2129.8" y="1450.8" width="4" height="19.5" fill="#000"/>
<rect x="2156.7" y="1450.8" width="4" height="19.5" fill="#000"/>
<rect x="2183.5" y="1450.8" width="4" height="19.5" fill="#000"/>
<rect x="2210.4" y="1450.8" width="4" height="19.5" fill="#000"/>
<rect x="2237.3" y="1450.8" width="4" height="19.5" fill="#000"/>
<rect x="2264.1" y="1450.8" width="4" height="19.5" fill="#000"/>
<rect x="1297.6" y="475.2" width="997.1" height="2.6" fill="#1a1a1a"/>
<rect x="2291.7" y="475.2" width="3" height="996.6" fill="#000"/>
<rect x="1297.6" y="1468.9" width="997.1" height="2.8" fill="#000"/>
<rect x="1297.4" y="1434" width="2.8" height="36.3" fill="#000"/>
<text class="tk" transform="translate(1283.1 1557.6) scale(0.94 1.055)" style="letter-spacing:2.2px">0</text>
<clipPath id="c1_3" clipPathUnits="userSpaceOnUse"><rect x="1300" y="1437.6" width="700" height="111.5"/><rect x="1300" y="1548.5" width="200.5" height="39.1"/><rect x="1513.4" y="1548.5" width="8" height="39.1"/><rect x="1533.4" y="1548.5" width="500" height="39.1"/></clipPath>
<g clip-path="url(#c1_3)"><text class="tk" transform="translate(1500 1557.6) scale(0.94 1.055)" style="letter-spacing:2.2px">1000</text></g>
<text class="tk" transform="translate(1768.7 1557.6) scale(0.94 1.055)" style="letter-spacing:2.2px">2000</text>
<text class="tk" transform="translate(2037.3 1557.6) scale(0.94 1.055)" style="letter-spacing:2.2px">3000</text>
</g>
<path d="M1336.4 1459.4 L1341.8 1459.4 L1341.8 1466 L1336.4 1466ZM1352.7 1456 L1358.2 1456 L1358.2 1462.6 L1352.7 1462.6ZM1369.6 1452.9 L1398.9 1447.4 L1398.9 1453.8 L1369.6 1459.3ZM1410.1 1444.2 L1415.6 1444.2 L1415.6 1450.8 L1410.1 1450.8ZM1426.5 1441.6 L1432 1441.6 L1432 1448.2 L1426.5 1448.2ZM1443.3 1439.9 L1472.6 1436.8 L1472.6 1443.2 L1443.3 1446.3ZM1483.9 1434.9 L1489.3 1434.9 L1489.3 1441.5 L1483.9 1441.5ZM1500.2 1433 L1505.7 1433 L1505.7 1439.6 L1500.2 1439.6ZM1517.1 1431.3 L1546.4 1428.1 L1546.4 1434.5 L1517.1 1437.7ZM1557.6 1426.2 L1563.1 1426.2 L1563.1 1432.8 L1557.6 1432.8ZM1574 1424.4 L1579.5 1424.4 L1579.5 1431 L1574 1431ZM1590.8 1422.9 L1620.1 1420.1 L1620.1 1426.5 L1590.8 1429.3ZM1631.4 1418.4 L1636.8 1418.4 L1636.8 1425 L1631.4 1425ZM1647.7 1416.7 L1653.2 1416.7 L1653.2 1423.3 L1647.7 1423.3ZM1664.6 1415.2 L1693.9 1412.4 L1693.9 1418.8 L1664.6 1421.6ZM1705.1 1410.6 L1710.6 1410.6 L1710.6 1417.2 L1705.1 1417.2ZM1721.5 1408.9 L1727 1408.9 L1727 1415.5 L1721.5 1415.5ZM1738.3 1407.3 L1767.6 1404.4 L1767.6 1410.8 L1738.3 1413.7ZM1778.9 1402.6 L1784.3 1402.6 L1784.3 1409.2 L1778.9 1409.2ZM1795.2 1400.8 L1800.7 1400.8 L1800.7 1407.4 L1795.2 1407.4ZM1812.1 1399.3 L1836 1396.8 L1836 1403.2 L1812.1 1405.7ZM1836 1396.8 L1841.4 1396.4 L1841.4 1402.8 L1836 1403.2ZM1852.6 1394.7 L1858.1 1394.7 L1858.1 1401.3 L1852.6 1401.3ZM1869 1393.1 L1874.5 1393.1 L1874.5 1399.7 L1869 1399.7ZM1885.8 1391.6 L1905 1389.8 L1905 1396.2 L1885.8 1398ZM1905 1389.8 L1915.1 1389.1 L1915.1 1395.5 L1905 1396.2ZM1926.4 1387.7 L1931.8 1387.7 L1931.8 1394.3 L1926.4 1394.3ZM1942.7 1386.3 L1948.2 1386.3 L1948.2 1392.9 L1942.7 1392.9ZM1959.6 1385.2 L1975 1384 L1975 1390.4 L1959.6 1391.6ZM1975 1384 L1988.9 1382.6 L1988.9 1389 L1975 1390.4ZM2000.1 1380.9 L2005.6 1380.9 L2005.6 1387.5 L2000.1 1387.5ZM2016.5 1379.1 L2022 1379.1 L2022 1385.7 L2016.5 1385.7ZM2033.3 1377.6 L2049 1376 L2049 1382.4 L2033.3 1384ZM2049 1376 L2062.6 1375.1 L2062.6 1381.5 L2049 1382.4ZM2073.9 1374 L2079.3 1374 L2079.3 1380.6 L2073.9 1380.6ZM2090.2 1372.8 L2095.7 1372.8 L2095.7 1379.4 L2090.2 1379.4ZM2107.1 1371.8 L2136.4 1369.3 L2136.4 1375.7 L2107.1 1378.2ZM2147.6 1367.8 L2153.1 1367.8 L2153.1 1374.4 L2147.6 1374.4ZM2164 1366.2 L2169.4 1366.2 L2169.4 1372.8 L2164 1372.8ZM2180.8 1364.9 L2210.1 1362.4 L2210.1 1368.8 L2180.8 1371.3ZM2221.4 1360.9 L2226.8 1360.9 L2226.8 1367.5 L2221.4 1367.5ZM2237.7 1359.3 L2243.2 1359.3 L2243.2 1365.9 L2237.7 1365.9ZM2254.6 1358 L2269.5 1356.7 L2269.5 1363.1 L2254.6 1364.4Z" fill="#92007f" stroke="#92007f" stroke-width="3.4" stroke-linejoin="round"/>
<path d="M1299 1467.5 L1317 1461.2 L1317 1466.8 L1299 1473.1ZM1317 1461.2 L1325.1 1459.2 L1325.1 1464.8 L1317 1466.8ZM1336.4 1454.5 L1341.8 1454.5 L1341.8 1460.3 L1336.4 1460.3ZM1352.7 1449.3 L1358.2 1449.3 L1358.2 1455.1 L1352.7 1455.1ZM1369 1445.2 L1398.9 1435.4 L1398.9 1441 L1369 1450.8ZM1410.1 1418.7 L1415.6 1418.7 L1415.6 1424.5 L1410.1 1424.5ZM1426.5 1403.9 L1432 1403.9 L1432 1409.7 L1426.5 1409.7ZM1441.7 1391.7 L1474.2 1377.7 L1474.2 1383.3 L1441.7 1397.3ZM1483.9 1369.9 L1489.3 1369.9 L1489.3 1375.7 L1483.9 1375.7ZM1500.2 1362 L1505.7 1362 L1505.7 1367.8 L1500.2 1367.8ZM1517.1 1354.3 L1547.7 1344.2 L1547.7 1349.8 L1517.1 1359.9ZM1557.6 1337.7 L1563.1 1337.7 L1563.1 1343.5 L1557.6 1343.5ZM1574 1332.6 L1579.5 1332.6 L1579.5 1338.4 L1574 1338.4ZM1590.1 1329.3 L1621.4 1321.7 L1621.4 1327.3 L1590.1 1334.9ZM1631.4 1321.1 L1636.8 1321.1 L1636.8 1326.9 L1631.4 1326.9ZM1647.7 1320.4 L1653.2 1320.4 L1653.2 1326.2 L1647.7 1326.2ZM1663 1319.7 L1694.3 1314.7 L1694.3 1320.3 L1663 1325.3ZM1705.1 1312.3 L1710.6 1312.3 L1710.6 1318.1 L1705.1 1318.1ZM1721.5 1308.8 L1727 1308.8 L1727 1314.6 L1721.5 1314.6ZM1737.1 1306.2 L1768.3 1300.9 L1768.3 1306.5 L1737.1 1311.8ZM1778.9 1298.3 L1784.3 1298.3 L1784.3 1304.1 L1778.9 1304.1ZM1795.2 1295.9 L1800.7 1295.9 L1800.7 1301.7 L1795.2 1301.7ZM1812.1 1292.9 L1842 1288.1 L1842 1293.7 L1812.1 1298.5ZM1852.6 1285.7 L1858.1 1285.7 L1858.1 1291.5 L1852.6 1291.5ZM1869 1283.4 L1874.5 1283.4 L1874.5 1289.2 L1869 1289.2ZM1885.8 1281.2 L1915.4 1276.6 L1915.4 1282.2 L1885.8 1286.8ZM1926.4 1275.3 L1931.8 1275.3 L1931.8 1281.1 L1926.4 1281.1ZM1942.7 1273 L1948.2 1273 L1948.2 1278.8 L1942.7 1278.8ZM1958.2 1270.8 L1988.9 1266.5 L1988.9 1272.1 L1958.2 1276.4ZM2000.1 1264.2 L2005.6 1264.2 L2005.6 1270 L2000.1 1270ZM2016.5 1261.9 L2022 1261.9 L2022 1267.7 L2016.5 1267.7ZM2031.8 1259.2 L2063.5 1254.6 L2063.5 1260.2 L2031.8 1264.8ZM2073.9 1252.6 L2079.3 1252.6 L2079.3 1258.4 L2073.9 1258.4ZM2090.2 1250.3 L2095.7 1250.3 L2095.7 1256.1 L2090.2 1256.1ZM2105.8 1248.3 L2137.6 1243 L2137.6 1248.6 L2105.8 1253.9ZM2147.6 1241.3 L2153.1 1241.3 L2153.1 1247.1 L2147.6 1247.1ZM2164 1238.3 L2169.4 1238.3 L2169.4 1244.1 L2164 1244.1ZM2179.9 1236.5 L2211.6 1231.4 L2211.6 1237 L2179.9 1242.1ZM2221.4 1229.7 L2226.8 1229.7 L2226.8 1235.5 L2221.4 1235.5ZM2237.7 1227.5 L2243.2 1227.5 L2243.2 1233.3 L2237.7 1233.3ZM2254.4 1225.2 L2269.5 1223.3 L2269.5 1228.9 L2254.4 1230.8Z" fill="#ff0000" stroke="#ff0000" stroke-width="3.4" stroke-linejoin="round"/>
<path d="M1299 1467.5 L1326 1460.7 L1326 1466.3 L1299 1473.1ZM1337.3 1456.6 L1342.7 1456.6 L1342.7 1462.4 L1337.3 1462.4ZM1353.6 1451.4 L1359.1 1451.4 L1359.1 1457.2 L1353.6 1457.2ZM1369.1 1444 L1399.8 1423.6 L1399.8 1429.2 L1369.1 1449.6ZM1402.1 1409 L1407.9 1409 L1407.9 1414.5 L1402.1 1414.5ZM1408.4 1392.7 L1414.2 1392.7 L1414.2 1398.1 L1408.4 1398.1ZM1416.3 1381.3 L1426.4 1352 L1432 1352 L1421.9 1381.3ZM1446.8 1340.4 L1452.2 1340.4 L1452.2 1346.2 L1446.8 1346.2ZM1463.1 1334.1 L1468.6 1334.1 L1468.6 1339.9 L1463.1 1339.9ZM1480 1329.8 L1510.2 1323.5 L1510.2 1329.1 L1480 1335.4ZM1520.5 1318.9 L1526 1318.9 L1526 1324.8 L1520.5 1324.8ZM1536.9 1315.7 L1542.3 1315.7 L1542.3 1321.5 L1536.9 1321.5ZM1553.7 1310.5 L1583 1303.1 L1583 1308.7 L1553.7 1316.1ZM1594.3 1293.4 L1599.7 1293.4 L1599.7 1299.2 L1594.3 1299.2ZM1610.6 1283.3 L1616.1 1283.3 L1616.1 1289.1 L1610.6 1289.1ZM1627.5 1271.4 L1658.4 1251.1 L1658.4 1256.7 L1627.5 1277ZM1668 1240.5 L1673.5 1240.5 L1673.5 1246.3 L1668 1246.3ZM1684.4 1238.3 L1689.8 1238.3 L1689.8 1244.1 L1684.4 1244.1ZM1701.2 1237.4 L1731.3 1234.9 L1731.3 1240.5 L1701.2 1243ZM1741.8 1232.4 L1747.2 1232.4 L1747.2 1238.2 L1741.8 1238.2ZM1758.1 1229.7 L1763.6 1229.7 L1763.6 1235.5 L1758.1 1235.5ZM1775 1226.3 L1805.5 1222.2 L1805.5 1227.8 L1775 1231.9ZM1815.5 1218 L1821 1218 L1821 1223.8 L1815.5 1223.8ZM1831.9 1215 L1837.4 1215 L1837.4 1220.8 L1831.9 1220.8ZM1847.1 1212.9 L1878.4 1209.4 L1878.4 1215 L1847.1 1218.5ZM1889.3 1206.5 L1894.7 1206.5 L1894.7 1212.3 L1889.3 1212.3ZM1905.6 1203.9 L1911.1 1203.9 L1911.1 1209.7 L1905.6 1209.7ZM1922.5 1202.1 L1952.4 1198.6 L1952.4 1204.2 L1922.5 1207.7ZM1963 1197.1 L1968.5 1197.1 L1968.5 1202.9 L1963 1202.9ZM1979.4 1196 L1984.9 1196 L1984.9 1201.8 L1979.4 1201.8ZM1995.2 1194.9 L2026.5 1192.5 L2026.5 1198.1 L1995.2 1200.5ZM2036.8 1192 L2042.2 1192 L2042.2 1197.8 L2036.8 1197.8ZM2053.1 1191.5 L2058.6 1191.5 L2058.6 1197.3 L2053.1 1197.3ZM2070 1190.8 L2100.5 1189.8 L2100.5 1195.4 L2070 1196.4ZM2110.5 1188.5 L2116 1188.5 L2116 1194.3 L2110.5 1194.3ZM2126.9 1187.4 L2132.3 1187.4 L2132.3 1193.2 L2126.9 1193.2ZM2142.2 1186.8 L2173.4 1185.1 L2173.4 1190.7 L2142.2 1192.4ZM2184.3 1184.3 L2189.7 1184.3 L2189.7 1190.1 L2184.3 1190.1ZM2200.6 1183.9 L2206.1 1183.9 L2206.1 1189.7 L2200.6 1189.7ZM2217.5 1182.6 L2247.5 1181 L2247.5 1186.6 L2217.5 1188.2ZM2258 1180.4 L2263.5 1180.4 L2263.5 1186.2 L2258 1186.2Z" fill="#ffaa00" stroke="#ffaa00" stroke-width="3.4" stroke-linejoin="round"/>
<mask id="mg" maskUnits="userSpaceOnUse" x="0" y="0" width="2335" height="1717"><path d="M1298 1468.2 L1567.6 1435.8 L1835.5 1411 L1975.5 1396.2 L2105.2 1387 L2265.5 1371" fill="none" stroke="#fff" stroke-width="12.8" stroke-linecap="round" stroke-linejoin="round"/></mask>
<path d="M1298 1468.2 L1567.6 1435.8 L1835.5 1411 L1975.5 1396.2 L2105.2 1387 L2265.5 1371" fill="none" stroke="#5a5aff" stroke-width="12.8" stroke-linecap="round" stroke-linejoin="round"/>
<g mask="url(#mg)">
<rect x="1295" y="1442.9" width="15.8" height="4.2" fill="#0808f6"/>
<rect x="1295" y="1418" width="15.8" height="4.2" fill="#0808f6"/>
<rect x="1295" y="1393.2" width="15.8" height="4.2" fill="#0808f6"/>
<rect x="1295" y="1368.3" width="15.8" height="4.2" fill="#0808f6"/>
<rect x="1295" y="1343.5" width="15.8" height="4.2" fill="#0808f6"/>
<rect x="1323.9" y="1450.8" width="4" height="19.5" fill="#0808f6"/>
<rect x="1350.7" y="1450.8" width="4" height="19.5" fill="#0808f6"/>
<rect x="1377.6" y="1450.8" width="4" height="19.5" fill="#0808f6"/>
<rect x="1404.5" y="1450.8" width="4" height="19.5" fill="#0808f6"/>
<rect x="1431.3" y="1450.8" width="4" height="19.5" fill="#0808f6"/>
<rect x="1458.2" y="1450.8" width="4" height="19.5" fill="#0808f6"/>
<rect x="1485.1" y="1450.8" width="4" height="19.5" fill="#0808f6"/>
<rect x="1511.9" y="1450.8" width="4" height="19.5" fill="#0808f6"/>
<rect x="1538.8" y="1450.8" width="4" height="19.5" fill="#0808f6"/>
<rect x="1565.7" y="1433.8" width="3.8" height="36.5" fill="#0808f6"/>
<rect x="1592.5" y="1450.8" width="4" height="19.5" fill="#0808f6"/>
<rect x="1619.4" y="1450.8" width="4" height="19.5" fill="#0808f6"/>
<rect x="1646.2" y="1450.8" width="4" height="19.5" fill="#0808f6"/>
<rect x="1673.1" y="1450.8" width="4" height="19.5" fill="#0808f6"/>
<rect x="1700" y="1450.8" width="4" height="19.5" fill="#0808f6"/>
<rect x="1726.8" y="1450.8" width="4" height="19.5" fill="#0808f6"/>
<rect x="1753.7" y="1450.8" width="4" height="19.5" fill="#0808f6"/>
<rect x="1780.6" y="1450.8" width="4" height="19.5" fill="#0808f6"/>
<rect x="1807.4" y="1450.8" width="4" height="19.5" fill="#0808f6"/>
<rect x="1834.4" y="1433.8" width="3.8" height="36.5" fill="#0808f6"/>
<rect x="1861.2" y="1450.8" width="4" height="19.5" fill="#0808f6"/>
<rect x="1888" y="1450.8" width="4" height="19.5" fill="#0808f6"/>
<rect x="1914.9" y="1450.8" width="4" height="19.5" fill="#0808f6"/>
<rect x="1941.8" y="1450.8" width="4" height="19.5" fill="#0808f6"/>
<rect x="1968.6" y="1450.8" width="4" height="19.5" fill="#0808f6"/>
<rect x="1995.5" y="1450.8" width="4" height="19.5" fill="#0808f6"/>
<rect x="2022.4" y="1450.8" width="4" height="19.5" fill="#0808f6"/>
<rect x="2049.2" y="1450.8" width="4" height="19.5" fill="#0808f6"/>
<rect x="2076.1" y="1450.8" width="4" height="19.5" fill="#0808f6"/>
<rect x="2103" y="1433.8" width="3.8" height="36.5" fill="#0808f6"/>
<rect x="2129.8" y="1450.8" width="4" height="19.5" fill="#0808f6"/>
<rect x="2156.7" y="1450.8" width="4" height="19.5" fill="#0808f6"/>
<rect x="2183.5" y="1450.8" width="4" height="19.5" fill="#0808f6"/>
<rect x="2210.4" y="1450.8" width="4" height="19.5" fill="#0808f6"/>
<rect x="2237.3" y="1450.8" width="4" height="19.5" fill="#0808f6"/>
<rect x="2264.1" y="1450.8" width="4" height="19.5" fill="#0808f6"/>
<rect x="2291.7" y="475.2" width="3" height="996.6" fill="#0808f6"/>
<rect x="1297.6" y="1468.9" width="997.1" height="2.8" fill="#0808f6"/>
<rect x="1297.8" y="476.5" width="2" height="993.8" fill="#0808f6"/>
<rect x="1297.4" y="1434" width="2.8" height="36.3" fill="#0808f6"/>
<rect x="1563.6" y="1431" width="8.1" height="9.5" fill="#0808f6"/>
<rect x="1831.5" y="1405.8" width="8.1" height="9.5" fill="#0808f6"/>
<rect x="1970.5" y="1390.2" width="10" height="12" fill="#0808f6"/>
<rect x="2101.2" y="1381.5" width="8.1" height="9.5" fill="#0808f6"/>
<path d="M1336.4 1459.4 L1341.8 1459.4 L1341.8 1466 L1336.4 1466ZM1352.7 1456 L1358.2 1456 L1358.2 1462.6 L1352.7 1462.6ZM1369.6 1452.9 L1398.9 1447.4 L1398.9 1453.8 L1369.6 1459.3ZM1410.1 1444.2 L1415.6 1444.2 L1415.6 1450.8 L1410.1 1450.8ZM1426.5 1441.6 L1432 1441.6 L1432 1448.2 L1426.5 1448.2ZM1443.3 1439.9 L1472.6 1436.8 L1472.6 1443.2 L1443.3 1446.3ZM1483.9 1434.9 L1489.3 1434.9 L1489.3 1441.5 L1483.9 1441.5ZM1500.2 1433 L1505.7 1433 L1505.7 1439.6 L1500.2 1439.6ZM1517.1 1431.3 L1546.4 1428.1 L1546.4 1434.5 L1517.1 1437.7ZM1557.6 1426.2 L1563.1 1426.2 L1563.1 1432.8 L1557.6 1432.8ZM1574 1424.4 L1579.5 1424.4 L1579.5 1431 L1574 1431ZM1590.8 1422.9 L1620.1 1420.1 L1620.1 1426.5 L1590.8 1429.3ZM1631.4 1418.4 L1636.8 1418.4 L1636.8 1425 L1631.4 1425ZM1647.7 1416.7 L1653.2 1416.7 L1653.2 1423.3 L1647.7 1423.3ZM1664.6 1415.2 L1693.9 1412.4 L1693.9 1418.8 L1664.6 1421.6ZM1705.1 1410.6 L1710.6 1410.6 L1710.6 1417.2 L1705.1 1417.2ZM1721.5 1408.9 L1727 1408.9 L1727 1415.5 L1721.5 1415.5ZM1738.3 1407.3 L1767.6 1404.4 L1767.6 1410.8 L1738.3 1413.7ZM1778.9 1402.6 L1784.3 1402.6 L1784.3 1409.2 L1778.9 1409.2ZM1795.2 1400.8 L1800.7 1400.8 L1800.7 1407.4 L1795.2 1407.4ZM1812.1 1399.3 L1836 1396.8 L1836 1403.2 L1812.1 1405.7ZM1836 1396.8 L1841.4 1396.4 L1841.4 1402.8 L1836 1403.2ZM1852.6 1394.7 L1858.1 1394.7 L1858.1 1401.3 L1852.6 1401.3ZM1869 1393.1 L1874.5 1393.1 L1874.5 1399.7 L1869 1399.7ZM1885.8 1391.6 L1905 1389.8 L1905 1396.2 L1885.8 1398ZM1905 1389.8 L1915.1 1389.1 L1915.1 1395.5 L1905 1396.2ZM1926.4 1387.7 L1931.8 1387.7 L1931.8 1394.3 L1926.4 1394.3ZM1942.7 1386.3 L1948.2 1386.3 L1948.2 1392.9 L1942.7 1392.9ZM1959.6 1385.2 L1975 1384 L1975 1390.4 L1959.6 1391.6ZM1975 1384 L1988.9 1382.6 L1988.9 1389 L1975 1390.4ZM2000.1 1380.9 L2005.6 1380.9 L2005.6 1387.5 L2000.1 1387.5ZM2016.5 1379.1 L2022 1379.1 L2022 1385.7 L2016.5 1385.7ZM2033.3 1377.6 L2049 1376 L2049 1382.4 L2033.3 1384ZM2049 1376 L2062.6 1375.1 L2062.6 1381.5 L2049 1382.4ZM2073.9 1374 L2079.3 1374 L2079.3 1380.6 L2073.9 1380.6ZM2090.2 1372.8 L2095.7 1372.8 L2095.7 1379.4 L2090.2 1379.4ZM2107.1 1371.8 L2136.4 1369.3 L2136.4 1375.7 L2107.1 1378.2ZM2147.6 1367.8 L2153.1 1367.8 L2153.1 1374.4 L2147.6 1374.4ZM2164 1366.2 L2169.4 1366.2 L2169.4 1372.8 L2164 1372.8ZM2180.8 1364.9 L2210.1 1362.4 L2210.1 1368.8 L2180.8 1371.3ZM2221.4 1360.9 L2226.8 1360.9 L2226.8 1367.5 L2221.4 1367.5ZM2237.7 1359.3 L2243.2 1359.3 L2243.2 1365.9 L2237.7 1365.9ZM2254.6 1358 L2269.5 1356.7 L2269.5 1363.1 L2254.6 1364.4ZM1336.4 1454.5 L1341.8 1454.5 L1341.8 1460.3 L1336.4 1460.3ZM1352.7 1449.3 L1358.2 1449.3 L1358.2 1455.1 L1352.7 1455.1ZM1369 1445.2 L1398.9 1435.4 L1398.9 1441 L1369 1450.8ZM1410.1 1418.7 L1415.6 1418.7 L1415.6 1424.5 L1410.1 1424.5ZM1337.3 1456.6 L1342.7 1456.6 L1342.7 1462.4 L1337.3 1462.4ZM1353.6 1451.4 L1359.1 1451.4 L1359.1 1457.2 L1353.6 1457.2ZM1369.1 1444 L1399.8 1423.6 L1399.8 1429.2 L1369.1 1449.6ZM1402.1 1409 L1407.9 1409 L1407.9 1414.5 L1402.1 1414.5ZM1408.4 1392.7 L1414.2 1392.7 L1414.2 1398.1 L1408.4 1398.1ZM1416.3 1381.3 L1426.4 1352 L1432 1352 L1421.9 1381.3Z" fill="#0808f6" stroke="#0808f6" stroke-width="3.4" stroke-linejoin="round"/>
</g>
</g>
<text class="ax" transform="translate(1233.4 1662.4) scale(1 1.05)" text-anchor="middle">Time (s)</text>
<text class="ax" transform="translate(77.3 971.5) rotate(-90) scale(1 1.08)" text-anchor="middle" style="font-size:66.4px">TSI</text>
</svg></body></html>
